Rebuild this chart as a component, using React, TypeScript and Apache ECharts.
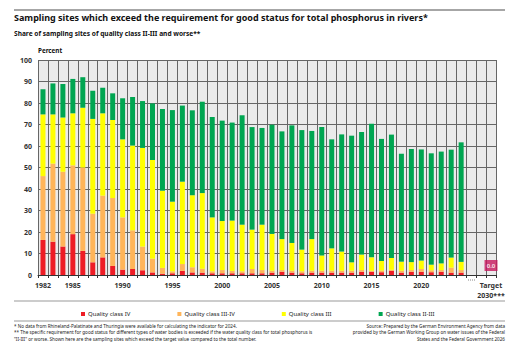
import React, { useEffect, useRef } from "react";
import * as echarts from "echarts";

const years = [
  "1982","1983","1984","1985","1986","1987","1988","1989","1990","1991","1992","1993","1994","1995",
  "1996","1997","1998","1999","2000","2001","2002","2003","2004","2005","2006","2007","2008","2009",
  "2010","2011","2012","2013","2014","2015","2016","2017","2018","2019","2020","2021","2022","2023","2024",
];
const targetLabel = "Target\n2030***";
const categories = [...years, "", "", targetLabel];
const shownLabels = ["1982","1985","1990","1995","2000","2005","2010","2015","2020", targetLabel];

// per-class shares (percent)
const classIV = [16.3,15.5,13.3,19.0,11.2,5.9,8.2,4.2,2.5,2.8,2.2,1.2,0.6,0.8,
  1.9,1.2,1.1,0.8,0.8,0.8,0.8,0.8,0.8,1.1,1.5,1.1,0.8,1.1,1.1,1.1,1.1,1.1,1.5,1.5,1.3,1.9,1.1,1.5,1.5,1.3,1.5,1.1,1.1];
const classIIIIV = [29.7,36.3,34.7,32.0,38.8,22.6,28.7,31.6,24.3,18.0,11.0,6.4,2.7,0.9,
  3.2,2.4,1.8,0.9,1.5,1.1,0.9,2.0,1.5,0.9,0.8,0.9,0.9,0.9,0.9,0.9,0.9,0.9,0.8,0.5,0.8,0.5,0.9,0.8,1.3,0.9,0.8,2.3,1.2];
const classIII = [28.7,22.9,25.3,24.2,27.8,44.1,38.3,36.3,36.3,39.4,45.9,45.9,35.9,32.4,
  38.3,33.5,35.2,25.1,22.8,23.4,21.7,18.3,21.1,17.1,14.4,12.9,10.1,14.7,7.1,10.4,8.9,3.9,7.2,6.2,4.4,5.5,4.2,3.7,3.9,2.6,3.1,4.7,3.8];
const classIIIII = [11.7,14.4,15.5,16.0,14.2,13.1,11.9,12.4,19.1,22.6,21.8,26.3,38.0,42.6,
  35.4,39.5,42.5,46.7,46.7,45.6,50.9,47.7,45.0,50.8,50.1,54.7,55.6,50.3,59.7,50.7,54.5,58.9,57.0,62.2,56.8,57.4,50.2,52.6,51.7,51.8,52.0,50.2,55.6];
const targetValue = 0.0;

const legendNames = ["Quality class IV", "Quality class III-IV", "Quality class III", "Quality class II-III"];
const colors = ["#ee1c25", "#ffb55a", "#ffff00", "#00a651"];

const footnotes = [
  "* No data from Rhineland-Palatinate and Thuringia were available for calculating the indicator for 2024.",
  "** The specific requirement for good status for different types of water bodies is exceeded if the water quality class for total phosphorus is",
  "\"II-III\" or worse. Shown here are the sampling sites which exceed the target value compared to the total number.",
  "*** Target of the German Sustainable Development Strategy",
];
const sourceLines = [
  "Source: Prepared by the German Environment Agency from data",
  "provided by the German Working Group on water issues of the Federal",
  "States and the Federal Government 2026",
];

const FONT = "Noto Sans";

export default function App() {
  const ref = useRef<HTMLDivElement>(null);
  useEffect(() => {
    if (!ref.current) return;
    const chart = echarts.init(ref.current, undefined, { renderer: "svg" });
    const seriesData = [classIV, classIIIIV, classIII, classIIIII];
    const barSeries = seriesData.map((d, i) => ({
      name: legendNames[i],
      type: "bar",
      stack: "total",
      barWidth: 5,
      data: d,
      itemStyle: { color: colors[i] },
    }));
    chart.setOption({
      animation: false,
      textStyle: { fontFamily: FONT },
      grid: { left: 38, right: 18, top: 60, bottom: 77, show: true, backgroundColor: "#ebebeb", borderWidth: 0 },
      legend: {
        data: legendNames.map((n, i) => ({ name: n, itemStyle: { color: colors[i] } })),
        left: 76,
        top: 306,
        itemWidth: 4,
        itemHeight: 4,
        itemGap: 47,
        icon: "rect",
        textStyle: { fontSize: 6, color: "#222", fontFamily: FONT, padding: [0, 0, 0, -2] },
      },
      xAxis: {
        type: "category",
        data: categories,
        axisLine: { show: true, lineStyle: { color: "#333", width: 1 } },
        axisTick: { show: true, interval: 0, length: 3, lineStyle: { color: "#333" } },
        splitLine: { show: true, interval: 0, lineStyle: { color: "#666", width: 1 } },
        axisLabel: {
          interval: (idx: number, val: string) => shownLabels.includes(val),
          fontSize: 7,
          color: "#333",
          fontWeight: "bold",
          margin: 5,
          lineHeight: 10,
          fontFamily: FONT,
        },
      },
      yAxis: {
        type: "value",
        min: 0,
        max: 100,
        interval: 10,
        axisLine: { show: false },
        axisTick: { show: false },
        splitLine: { show: true, lineStyle: { color: "#666", width: 1 } },
        axisLabel: { fontSize: 7, color: "#333", fontWeight: "bold", margin: 6, fontFamily: FONT },
      },
      series: [
        ...barSeries,
        {
          type: "scatter",
          data: [[targetLabel, targetValue]],
          symbol: "rect",
          symbolSize: [13, 11],
          symbolOffset: [0, -9.5],
          itemStyle: { color: "#c8175d" },
          label: {
            show: true,
            position: "inside",
            formatter: (p: any) => Number(p.value[1]).toFixed(1),
            color: "#fff",
            fontSize: 6,
            fontWeight: "bold",
            fontFamily: FONT,
          },
          labelLayout: { hideOverlap: false },
          z: 5,
        },
      ],
      graphic: [
        { type: "line", shape: { x1: 14, y1: 10, x2: 505, y2: 10 }, style: { stroke: "#888", lineWidth: 1.5 } },
        {
          type: "text", left: 14, top: 13,
          style: { text: "Sampling sites which exceed the requirement for good status for total phosphorus in rivers*", font: `bold 9px "${FONT}"`, fill: "#111" },
        },
        {
          type: "text", left: 14, top: 30,
          style: { text: "Share of sampling sites of quality class II-III and worse**", font: `bold 6.6px "${FONT}"`, fill: "#111" },
        },
        {
          type: "text", left: 38, top: 47,
          style: { text: "Percent", font: `bold 6.3px "${FONT}"`, fill: "#111" },
        },
        { type: "line", shape: { x1: 468, y1: 280, x2: 476, y2: 280 }, style: { stroke: "#888", lineWidth: 1, lineDash: [1, 1] } },
        { type: "line", shape: { x1: 14, y1: 301, x2: 505, y2: 301 }, style: { stroke: "#999", lineWidth: 1.2 } },
        { type: "line", shape: { x1: 14, y1: 321, x2: 505, y2: 321 }, style: { stroke: "#999", lineWidth: 1.2 } },
        ...footnotes.map((t, i) => ({
          type: "text", left: 14, top: 323 + i * 6.7,
          style: { text: t, font: `4.6px "${FONT}"`, fill: "#222" },
        })),
        ...sourceLines.map((t, i) => ({
          type: "text", right: 9, top: 323 + i * 6.7,
          style: { text: t, font: `4.6px "${FONT}"`, fill: "#222", align: "right" },
        })),
      ],
    });
    return () => chart.dispose();
  }, []);
  return <div ref={ref} style={{ width: 514, height: 352, margin: -8 }} />;
}
